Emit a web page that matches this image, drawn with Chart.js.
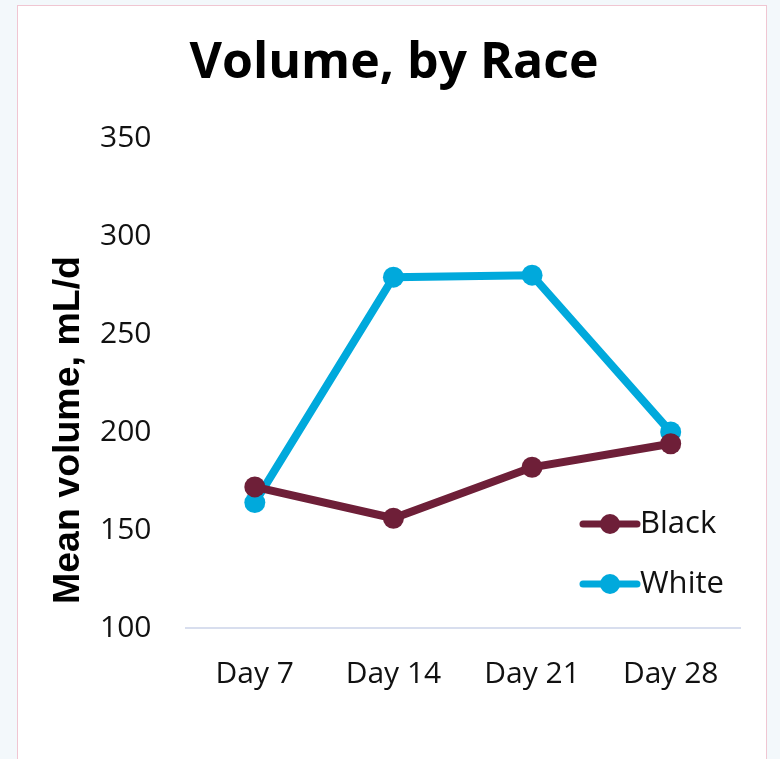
<!DOCTYPE html>
<html>
<head>
<meta charset="utf-8">
<script src="https://cdn.jsdelivr.net/npm/chart.js@4"></script>
<style>
  html, body { margin: 0; padding: 0; background: #f3f8fb; }
  body { width: 780px; height: 759px; overflow: hidden; position: relative; }
  #card {
    position: absolute; left: 17px; top: 5px; width: 748px; height: 780px;
    background: #fff; border: 1.5px solid #f0c6d2;
  }
  #card canvas { display: block; }
</style>
</head>
<body>
<div id="card"><canvas id="chart" width="748" height="754"></canvas></div>
<script>
const days = ["Day 7", "Day 14", "Day 21", "Day 28"];
const blackVals = [172, 156, 182, 194];
const whiteVals = [164, 279, 280, 200];
const yTicks = [100, 150, 200, 250, 300, 350];
const yTitle = "Mean volume, mL/d";

const FONT = "'Open Sans', 'Noto Sans', sans-serif";

// legend drawn inside plot area, line + dot marker
const insideLegend = {
  id: "insideLegend",
  afterDraw(chart) {
    const ctx = chart.ctx;
    const area = chart.chartArea;
    const x0 = area.right - 157;
    const rows = [area.bottom - 104, area.bottom - 44];
    chart.data.datasets.forEach((ds, i) => {
      const y = rows[i];
      ctx.save();
      ctx.strokeStyle = ds.borderColor;
      ctx.lineWidth = 7;
      ctx.lineCap = "round";
      ctx.beginPath();
      ctx.moveTo(x0, y);
      ctx.lineTo(x0 + 54, y);
      ctx.stroke();
      ctx.fillStyle = ds.borderColor;
      ctx.beginPath();
      ctx.arc(x0 + 27, y, 10, 0, Math.PI * 2);
      ctx.fill();
      ctx.fillStyle = "#111";
      ctx.font = "31px " + FONT;
      ctx.textBaseline = "middle";
      ctx.fillText(ds.label, x0 + 57, y);
      ctx.restore();
    });
  }
};

// y axis title sits lower than the plot centre, so draw it by hand
const yTitlePlugin = {
  id: "yTitlePlugin",
  afterDraw(chart) {
    const ctx = chart.ctx;
    const area = chart.chartArea;
    ctx.save();
    ctx.translate(51, area.bottom - 198);
    ctx.rotate(-Math.PI / 2);
    ctx.fillStyle = "#000";
    ctx.font = "bold 37.5px 'Liberation Sans', Arial, sans-serif";
    ctx.textAlign = "center";
    ctx.textBaseline = "middle";
    ctx.fillText(yTitle, 0, 0);
    ctx.restore();
  }
};

new Chart(document.getElementById("chart"), {
  type: "line",
  data: {
    labels: days,
    datasets: [
      {
        label: "Black",
        data: blackVals,
        borderColor: "#6e1f38",
        backgroundColor: "#6e1f38",
        borderWidth: 8,
        pointRadius: 10.5,
        pointBorderWidth: 0,
        pointHoverRadius: 10.5
      },
      {
        label: "White",
        data: whiteVals,
        borderColor: "#00a9dc",
        backgroundColor: "#00a9dc",
        borderWidth: 8,
        pointRadius: 10.5,
        pointBorderWidth: 0,
        pointHoverRadius: 10.5
      }
    ]
  },
  options: {
    responsive: false,
    animation: false,
    layout: { padding: { left: 30, right: 26, top: 0, bottom: 40 } },
    plugins: {
      legend: { display: false },
      tooltip: { enabled: false },
      title: {
        display: true,
        text: "Volume, by Race",
        color: "#000",
        font: { family: FONT, size: 50, weight: "bold" },
        padding: { top: 28, bottom: 44 }
      }
    },
    scales: {
      x: {
        offset: true,
        grid: { display: false, drawTicks: false },
        border: { display: true, color: "#d8deee", width: 2 },
        ticks: {
          color: "#111",
          padding: 28,
          font: { family: FONT, size: 30 }
        }
      },
      y: {
        min: 100,
        max: 350,
        afterBuildTicks: (axis) => { axis.ticks = yTicks.map(v => ({ value: v })); },
        afterFit: (axis) => { axis.width = 137.5; },
        grid: { display: false, drawTicks: false },
        border: { display: false },
        ticks: {
          color: "#111",
          padding: 34,
          font: { family: FONT, size: 30 }
        }
      }
    }
  },
  plugins: [insideLegend, yTitlePlugin]
});
</script>
</body>
</html>
